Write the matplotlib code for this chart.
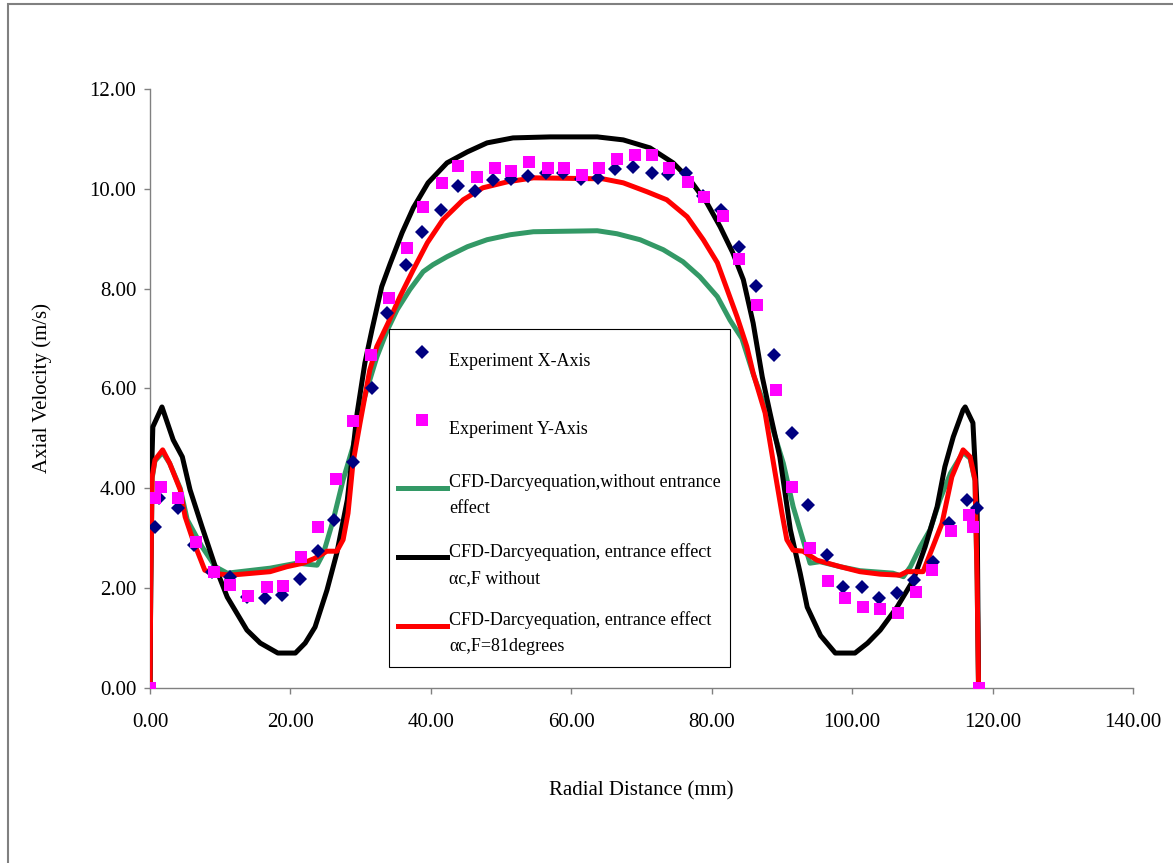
import matplotlib
matplotlib.use("Agg")
import matplotlib.pyplot as plt
from matplotlib.patches import Rectangle

plt.rcParams['font.family'] = ['Liberation Serif', 'DejaVu Serif']

# Experiment, X-axis traverse (diamonds)
exp_x_r = [0.7, 1.3, 4.0, 6.3, 8.8, 11.4, 13.8, 16.4, 18.8, 21.4, 23.9, 26.2, 28.9,
           31.6, 33.8, 36.5, 38.7, 41.5, 43.9, 46.3, 48.9, 51.4, 53.8, 56.4, 58.8,
           61.4, 63.8, 66.2, 68.8, 71.5, 73.8, 76.4, 78.8, 81.3, 83.9, 86.3, 88.9,
           91.5, 93.7, 96.4, 98.7, 101.4, 103.8, 106.4, 108.8, 111.5, 113.8, 116.4, 117.8]
exp_x_v = [3.23, 3.80, 3.60, 2.87, 2.32, 2.22, 1.82, 1.80, 1.86, 2.18, 2.74, 3.36, 4.53,
           6.01, 7.51, 8.48, 9.14, 9.58, 10.06, 9.96, 10.18, 10.20, 10.26, 10.32, 10.32,
           10.20, 10.22, 10.40, 10.44, 10.32, 10.30, 10.32, 9.86, 9.58, 8.84, 8.06, 6.67,
           5.11, 3.67, 2.67, 2.02, 2.02, 1.80, 1.90, 2.16, 2.53, 3.30, 3.77, 3.60]

# Experiment, Y-axis traverse (squares)
exp_y_r = [0, 0.7, 1.6, 4.0, 6.5, 9.1, 11.4, 14.0, 16.6, 18.9, 21.5, 23.9, 26.5, 28.9,
           31.5, 34.0, 36.6, 38.9, 41.6, 43.9, 46.6, 49.1, 51.4, 54.0, 56.7, 59.0, 61.5,
           64.0, 66.5, 69.1, 71.5, 73.9, 76.6, 78.9, 81.6, 83.9, 86.5, 89.2, 91.5, 94.0,
           96.6, 99.0, 101.6, 104.0, 106.6, 109.1, 111.4, 114.1, 116.7, 117.2, 118.0]
exp_y_v = [0, 3.80, 4.03, 3.80, 2.93, 2.32, 2.06, 1.84, 2.02, 2.05, 2.62, 3.23, 4.19, 5.35,
           6.67, 7.82, 8.82, 9.64, 10.12, 10.46, 10.24, 10.42, 10.36, 10.54, 10.42, 10.42, 10.28,
           10.42, 10.60, 10.68, 10.68, 10.42, 10.14, 9.84, 9.46, 8.60, 7.68, 5.97, 4.03, 2.81,
           2.14, 1.80, 1.62, 1.58, 1.50, 1.92, 2.36, 3.15, 3.47, 3.23, 0]

# CFD without entrance effect (green)
cfd_g_r = [0, 0.1, 0.3, 0.7, 1.8, 2.8, 4.3, 5.3, 7.4, 9.3, 11.0, 12.8, 17.1, 20.9, 23.8,
           24.7, 26.1, 27.5, 28.9, 30.5, 32.3, 33.8, 35.2, 37.0, 38.9, 40.3, 42.3, 45.2, 48.0,
           51.3, 54.6, 63.7, 66.5, 69.8, 73.1, 75.9, 78.3, 80.8, 82.6, 84.3, 86.0, 88.3, 90.2,
           91.6, 93.0, 94.0, 95.4, 98.3, 101.1, 105.8, 107.3, 108.3, 109.7, 111.1, 112.5,
           114.0, 115.8, 116.8, 117.5, 117.8, 118.0]
cfd_g_v = [0, 2.0, 4.2, 4.55, 4.72, 4.5, 4.0, 3.37, 2.83, 2.43, 2.30, 2.33, 2.40, 2.50, 2.46,
           2.70, 3.37, 4.17, 4.83, 5.80, 6.63, 7.17, 7.58, 7.98, 8.34, 8.48, 8.64, 8.84, 8.98,
           9.08, 9.14, 9.16, 9.10, 8.98, 8.78, 8.54, 8.24, 7.84, 7.37, 7.00, 6.25, 5.37, 4.50,
           3.63, 2.97, 2.50, 2.53, 2.43, 2.35, 2.30, 2.23, 2.43, 2.83, 3.17, 3.77,
           4.30, 4.72, 4.6, 4.15, 2.1, 0]

# CFD with entrance effect, without angle (black)
cfd_k_r = [0, 0.2, 0.4, 1.7, 3.3, 4.6, 5.7, 7.4, 9.3, 11.0, 13.8, 15.7, 18.2, 20.7, 22.1,
           23.5, 25.2, 26.6, 28.1, 29.5, 30.6, 31.6, 33.0, 34.2, 35.9, 37.5, 39.6, 42.3, 45.2,
           48.0, 51.7, 57.0, 63.7, 67.4, 71.2, 74.5, 76.9, 79.3, 81.2, 83.0, 84.5, 85.9, 87.2,
           88.3, 89.7, 91.2, 92.6, 93.6, 95.5, 97.6, 100.4, 102.2, 104.0, 106.4, 108.7, 110.4,
           112.1, 113.2, 114.4, 115.8, 116.1, 117.2, 117.5, 117.8, 118.0]
cfd_k_v = [0, 4.2, 5.23, 5.63, 4.97, 4.63, 3.97, 3.23, 2.43, 1.82, 1.16, 0.90, 0.70, 0.70, 0.90,
           1.22, 1.96, 2.70, 3.77, 5.51, 6.51, 7.17, 8.04, 8.50, 9.12, 9.62, 10.12, 10.52, 10.74,
           10.92, 11.02, 11.04, 11.04, 10.98, 10.82, 10.52, 10.18, 9.72, 9.24, 8.72, 8.18, 7.31, 6.23,
           5.51, 4.63, 3.17, 2.30, 1.62, 1.05, 0.70, 0.70, 0.90, 1.16, 1.62, 2.16, 2.83,
           3.63, 4.43, 5.03, 5.57, 5.63, 5.31, 4.50, 3.60, 0]

# CFD with entrance effect, 81 degrees (red)
cfd_r_r = [0, 0.1, 0.3, 0.7, 1.8, 2.8, 4.3, 5.0, 6.1, 7.8, 8.8, 11.4, 14.7, 17.1, 19.5,
           21.8, 23.5, 25.2, 26.6, 27.5, 28.2, 28.9, 29.9, 31.3, 32.3, 33.9, 35.6, 37.5, 39.5,
           41.7, 44.6, 47.4, 50.9, 54.6, 64.5, 67.4, 70.8, 73.6, 76.5, 78.8, 80.8, 82.2, 83.6,
           85.0, 85.9, 87.6, 88.8, 90.0, 90.7, 91.6, 93.0, 95.0, 98.3, 101.1, 104.0,
           106.8, 107.8, 110.1, 111.5, 112.8, 114.2, 115.8, 116.8, 117.5, 117.8, 118.0]
cfd_r_v = [0, 2.0, 4.23, 4.57, 4.77, 4.50, 3.97, 3.43, 2.97, 2.36, 2.30, 2.26, 2.30, 2.33, 2.43,
           2.50, 2.60, 2.74, 2.74, 2.97, 3.50, 4.50, 5.30, 6.37, 6.84, 7.31, 7.84, 8.38, 8.92,
           9.38, 9.78, 10.02, 10.14, 10.22, 10.20, 10.12, 9.94, 9.78, 9.44, 8.98, 8.52, 7.98, 7.44,
           6.84, 6.31, 5.51, 4.50, 3.50, 2.97, 2.76, 2.74, 2.56, 2.43, 2.33, 2.28,
           2.26, 2.33, 2.33, 2.83, 3.30, 4.23, 4.77, 4.63, 4.17, 2.16, 0]

x_ticks = [0, 20, 40, 60, 80, 100, 120, 140]
y_ticks = [0, 2, 4, 6, 8, 10, 12]

lab_x = 'Experiment X-Axis'
lab_y = 'Experiment Y-Axis'
lab_g = 'CFD-Darcyequation,without entrance\neffect'
lab_k = 'CFD-Darcyequation, entrance effect\n\u03b1c,F without'
lab_r = 'CFD-Darcyequation, entrance effect\n\u03b1c,F=81degrees'

fig = plt.figure(figsize=(11.73, 8.63), dpi=100)
ax = fig.add_axes([0.1279, 0.2028, 0.8380, 0.6941])

lw = 3.6
lg, = ax.plot(cfd_g_r, cfd_g_v, color='#339966', lw=lw, solid_joinstyle='round', zorder=2, label=lab_g)
lk, = ax.plot(cfd_k_r, cfd_k_v, color='black', lw=lw, solid_joinstyle='round', zorder=3, label=lab_k)
lr, = ax.plot(cfd_r_r, cfd_r_v, color='#ff0000', lw=lw, solid_joinstyle='round', zorder=4, label=lab_r)
mx, = ax.plot(exp_x_r, exp_x_v, 'D', color='#000080', ms=7.2, mew=0, zorder=5, label=lab_x)
my, = ax.plot(exp_y_r, exp_y_v, 's', color='#ff00ff', ms=9, mew=0, zorder=6, label=lab_y)

ax.set_xlim(0, 140)
ax.set_ylim(0, 12)
ax.set_xticks(x_ticks)
ax.set_yticks(y_ticks)
ax.set_xticklabels(['%.2f' % v for v in x_ticks])
ax.set_yticklabels(['%.2f' % v for v in y_ticks])
ax.tick_params(axis='both', direction='out', length=4, width=1, color='#808080', labelsize=15)
ax.tick_params(axis='x', pad=14)
ax.tick_params(axis='y', pad=6)

for s in ['top', 'right']:
    ax.spines[s].set_visible(False)
for s in ['left', 'bottom']:
    ax.spines[s].set_color('#808080')
    ax.spines[s].set_linewidth(1)

ax.set_xlabel('Radial Distance (mm)', fontsize=15)
ax.set_ylabel('Axial Velocity (m/s)', fontsize=15)
ax.xaxis.set_label_coords(0.5, -0.155)
ax.yaxis.set_label_coords(-0.100, 0.5)

leg = ax.legend(handles=[mx, my, lg, lk, lr], loc='upper left', bbox_to_anchor=(0.243, 0.599),
                fontsize=13, numpoints=1, handlelength=2.7, handleheight=3.5,
                handletextpad=0.15, labelspacing=1.25, borderpad=0.5, borderaxespad=0,
                fancybox=False, framealpha=1, edgecolor='black')
leg.get_frame().set_linewidth(0.8)
for t in leg.get_texts():
    t.set_linespacing(1.7)

# outer chart border (top and left visible)
fig.add_artist(Rectangle((8 / 1173, -0.1), 1.2, 1.1 - 4 / 863, transform=fig.transFigure,
                         fill=False, edgecolor='#808080', linewidth=1.5))

fig.savefig('out.png', dpi=100)
